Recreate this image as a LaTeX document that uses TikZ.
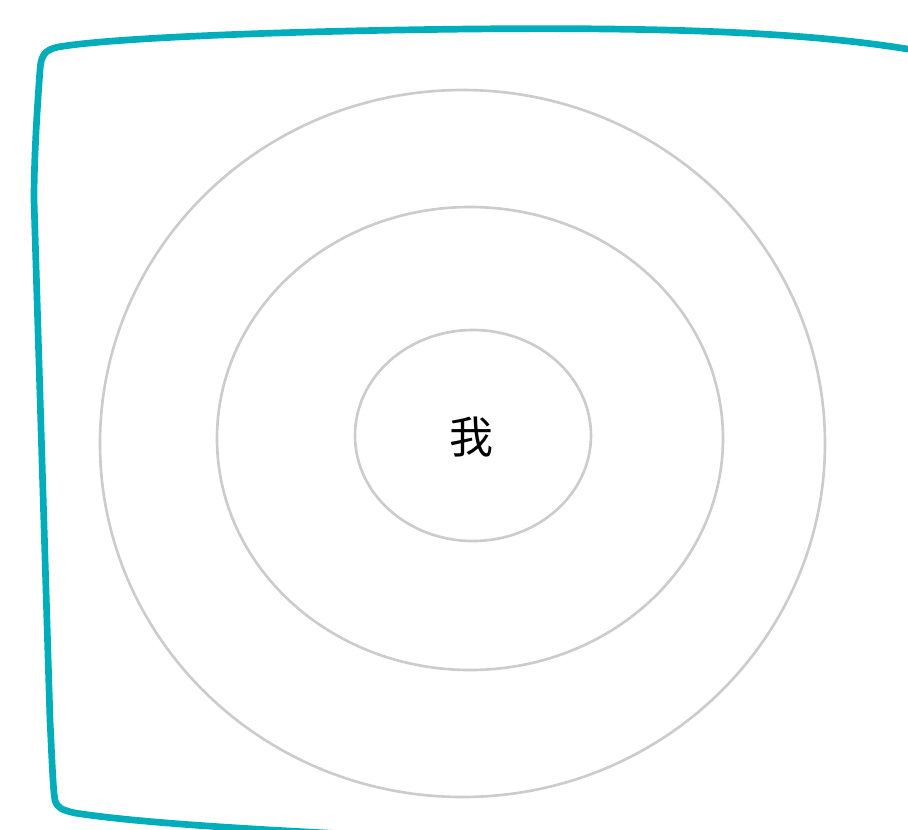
\documentclass[tikz,border=0pt]{standalone}
\usepackage{fontspec}
\newfontfamily\cjk{Noto Sans CJK SC}
\definecolor{frameteal}{HTML}{00AEBB}
\definecolor{ringgray}{HTML}{CCCCCC}
\begin{document}
\begin{tikzpicture}[x=0.01cm,y=-0.01cm,
  ring/.style={draw=ringgray, line width=0.75pt},
  framepath/.style={draw=frameteal, line width=1.9pt, line cap=round, line join=round}]
\useasboundingbox (0,0) rectangle (908,829);
\clip (0,0) rectangle (908,829);
\fill[white] (0,0) rectangle (908,829);
% frame
\draw[framepath] (925,52) .. controls (820,33) and (680,27) .. (470,29)
  .. controls (280,31) and (110,38) .. (58,47)
  .. controls (44,50) and (41,56) .. (40,70)
  .. controls (37,110) and (34,160) .. (34,200)
  -- (50,720)
  .. controls (52,760) and (53,790) .. (55,800)
  .. controls (57,808) and (62,810) .. (75,813)
  .. controls (140,823) and (250,829) .. (345,834);
% rings
\draw[ring] (462.5,443.5) ellipse [x radius=362.5, y radius=353.5];
\draw[ring] (470,438.5) ellipse [x radius=253, y radius=231.5];
\draw[ring] (473,435.5) ellipse [x radius=118, y radius=105.5];
\node (me) at (471,437) {\cjk\fontsize{12.5pt}{14pt}\selectfont 我};
\end{tikzpicture}
\end{document}
